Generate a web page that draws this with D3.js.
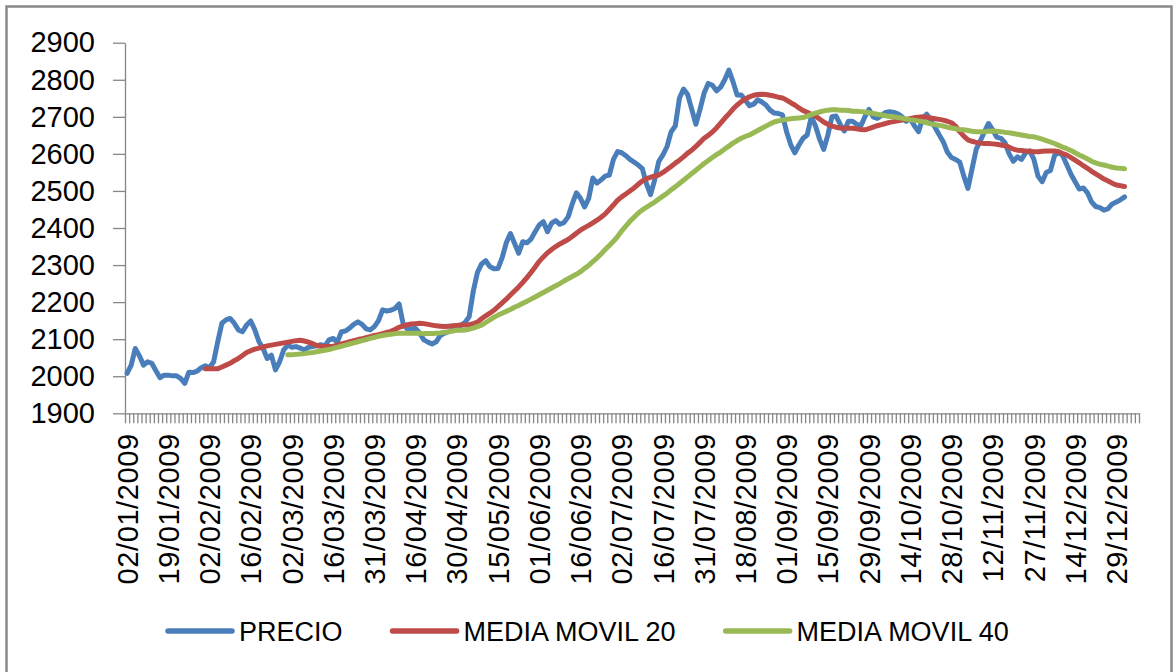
<!DOCTYPE html>
<html>
<head>
<meta charset="utf-8">
<script src="https://cdnjs.cloudflare.com/ajax/libs/d3/7.8.5/d3.min.js"></script>
<style>
  body { margin: 0; background: #fff; }
  svg { display: block; font-family: 'Liberation Sans', Arial, sans-serif; }
  .axis path, .axis line { stroke: #868686; stroke-width: 1.3; }
  .axis text { fill: #000; font-size: 29px; }
</style>
</head>
<body>
<svg id="chart" width="1173" height="672"></svg>
<script>
// category labels, one every 10 trading days
var dateLabels = ['02/01/2009', '19/01/2009', '02/02/2009', '16/02/2009', '02/03/2009',
    '16/03/2009', '31/03/2009', '16/04/2009', '30/04/2009', '15/05/2009', '01/06/2009',
    '16/06/2009', '02/07/2009', '16/07/2009', '31/07/2009', '18/08/2009', '01/09/2009',
    '15/09/2009', '29/09/2009', '14/10/2009', '28/10/2009', '12/11/2009', '27/11/2009',
    '14/12/2009', '29/12/2009'];
var labelStep = 10;
var nCategories = 246;

var yTicks = [1900, 2000, 2100, 2200, 2300, 2400, 2500, 2600, 2700, 2800, 2900];

// daily closing price (one value per category, from index 0)
var precio = [
    2008, 2030, 2075, 2055, 2030, 2039, 2035, 2015, 1996, 2003,
    2003, 2001, 2001, 1994, 1981, 2011, 2010, 2014, 2023, 2028,
    2023, 2039, 2093, 2143, 2152, 2156, 2143, 2125, 2120, 2138,
    2149, 2125, 2093, 2075, 2048, 2057, 2017, 2039, 2071, 2084,
    2078, 2080, 2076, 2071, 2078, 2080, 2082, 2085, 2082, 2098,
    2102, 2092, 2120, 2122, 2130, 2140, 2147, 2140, 2128, 2125,
    2134, 2150, 2179, 2176, 2178, 2183, 2195, 2140, 2127, 2128,
    2129, 2116, 2098, 2092, 2087, 2093, 2110, 2116, 2120, 2125,
    2130, 2138, 2145, 2161, 2230, 2280, 2303, 2312, 2296, 2290,
    2291, 2320, 2360, 2385, 2359, 2332, 2363, 2360, 2370, 2390,
    2408, 2417, 2390, 2413, 2420, 2410, 2415, 2430, 2465, 2495,
    2480, 2457, 2480, 2535, 2521, 2530, 2540, 2543, 2585, 2606,
    2603, 2595, 2585, 2578, 2570, 2560, 2520, 2490, 2530, 2580,
    2597, 2620, 2660, 2675, 2750, 2775, 2760, 2720, 2680, 2720,
    2764, 2790, 2785, 2770, 2780, 2800, 2826, 2795, 2759, 2759,
    2745, 2730, 2734, 2746, 2740, 2732, 2718, 2710, 2709, 2705,
    2660, 2625, 2603, 2624, 2642, 2651, 2700, 2676, 2640, 2612,
    2650, 2700, 2702, 2680, 2662, 2688, 2688, 2680, 2675, 2700,
    2720, 2700, 2696, 2703, 2712, 2714, 2712, 2708, 2700, 2688,
    2695, 2676, 2660, 2695, 2707, 2690, 2672, 2652, 2633, 2605,
    2590, 2585, 2578, 2540, 2507, 2560, 2612, 2635, 2660, 2682,
    2665, 2645, 2642, 2630, 2600, 2580, 2592, 2585, 2603, 2608,
    2585, 2540, 2525, 2550, 2555, 2595, 2605, 2595, 2570, 2545,
    2525, 2505, 2508, 2495, 2470, 2458, 2455, 2448, 2452, 2465,
    2470, 2476, 2484
];

// 20 day moving average, first value at category 19
var ma20Start = 19;
var ma20 = [
    2020,
    2020, 2020, 2020, 2025, 2030, 2035, 2042, 2048, 2056, 2064,
    2069, 2073, 2076, 2079, 2082, 2084, 2086, 2088, 2090, 2092,
    2094, 2096, 2097, 2095, 2092, 2088, 2083, 2081, 2080, 2080,
    2081, 2084, 2087, 2090, 2093, 2096, 2099, 2101, 2104, 2107,
    2110, 2112, 2115, 2118, 2121, 2126, 2132, 2136, 2139, 2141,
    2142, 2143, 2142, 2140, 2138, 2136, 2135, 2134, 2135, 2136,
    2137, 2138, 2138, 2139, 2142, 2146, 2155, 2163, 2170, 2178,
    2188, 2198, 2208, 2219, 2230, 2241, 2253, 2266, 2280, 2295,
    2310, 2322, 2333, 2342, 2350, 2357, 2363, 2369, 2377, 2386,
    2394, 2401, 2407, 2414, 2421, 2429, 2438, 2450, 2462, 2475,
    2484, 2492, 2500, 2508, 2518, 2527, 2533, 2537, 2540, 2543,
    2550, 2558, 2566, 2575, 2583, 2592, 2602, 2610, 2620, 2631,
    2642, 2650, 2659, 2670, 2683, 2696, 2708, 2721, 2732, 2741,
    2748, 2754, 2758, 2760, 2761, 2760, 2758, 2756, 2753, 2751,
    2745, 2738, 2732, 2724, 2717, 2712, 2707, 2702, 2694, 2686,
    2680, 2675, 2672, 2670, 2669, 2669, 2669, 2668, 2666, 2665,
    2668, 2672, 2676, 2679, 2682, 2685, 2687, 2689, 2691, 2693,
    2695, 2698, 2699, 2700, 2699, 2697, 2695, 2693, 2691, 2688,
    2684, 2675, 2660, 2648, 2638, 2634, 2631, 2629, 2628, 2628,
    2627, 2626, 2624, 2622, 2618, 2613, 2610, 2609, 2608, 2607,
    2606, 2606, 2607, 2608, 2608, 2608, 2606, 2601, 2597, 2590,
    2583, 2576, 2568, 2561, 2553, 2546, 2539, 2532, 2527, 2521,
    2516, 2514, 2512
];

// 40 day moving average, first value at category 39
var ma40Start = 39;
var ma40 = [
    2058,
    2058, 2059, 2060, 2061, 2063, 2064, 2066, 2068, 2070, 2072,
    2075, 2078, 2081, 2084, 2087, 2090, 2093, 2096, 2099, 2102,
    2105, 2108, 2110, 2112, 2113, 2115, 2116, 2116, 2116, 2116,
    2116, 2116, 2115, 2115, 2115, 2116, 2117, 2119, 2120, 2122,
    2124, 2124, 2125, 2127, 2130, 2134, 2138, 2145, 2152, 2159,
    2165, 2170, 2175, 2180, 2186, 2191, 2197, 2202, 2208, 2214,
    2220, 2226, 2232, 2238, 2244, 2250, 2257, 2263, 2269, 2275,
    2282, 2291, 2299, 2309, 2319, 2330, 2342, 2353, 2364, 2377,
    2392, 2405, 2418, 2429, 2440, 2449, 2456, 2463, 2470, 2478,
    2486, 2494, 2503, 2511, 2520, 2529, 2538, 2547, 2556, 2565,
    2574, 2582, 2590, 2598, 2605, 2613, 2621, 2629, 2636, 2642,
    2647, 2651, 2657, 2663, 2669, 2675, 2681, 2686, 2689, 2691,
    2693, 2695, 2696, 2697, 2698, 2702, 2706, 2710, 2713, 2716,
    2718, 2719, 2719, 2718, 2718, 2717, 2715, 2715, 2714, 2713,
    2711, 2709, 2707, 2705, 2703, 2701, 2700, 2698, 2696, 2694,
    2692, 2691, 2689, 2687, 2684, 2681, 2679, 2677, 2675, 2672,
    2670, 2668, 2666, 2665, 2663, 2661, 2660, 2660, 2660, 2661,
    2662, 2661, 2660, 2658, 2657, 2655, 2653, 2651, 2649, 2647,
    2646, 2643, 2640, 2636, 2632, 2628, 2623, 2618, 2614, 2609,
    2603, 2597, 2592, 2586, 2580, 2576, 2572, 2570, 2567, 2564,
    2562, 2561, 2560
];

var series = [
    { name: 'PRECIO', start: 0, values: precio, color: '#4A7EBB' },
    { name: 'MEDIA MOVIL 20', start: ma20Start, values: ma20, color: '#BE4B48' },
    { name: 'MEDIA MOVIL 40', start: ma40Start, values: ma40, color: '#98B954' }
];

var svg = d3.select('#chart');

// chart area border
svg.append('rect')
    .attr('x', 6.5).attr('y', 6.5)
    .attr('width', 1165).attr('height', 700)
    .attr('fill', '#fff')
    .attr('stroke', '#898989')
    .attr('stroke-width', 2.5);

// plot area
var plotLeft = 125, plotRight = 1139, plotTop = 42.7, plotBottom = 413.3;

var x = d3.scaleLinear().domain([0, nCategories]).range([plotLeft, plotRight]);
var y = d3.scaleLinear().domain([1900, 2900]).range([plotBottom, plotTop]);

// y axis
svg.append('g')
    .attr('class', 'axis')
    .attr('transform', 'translate(' + plotLeft + ',0)')
    .call(d3.axisLeft(y)
        .tickValues(yTicks)
        .tickSize(12)
        .tickSizeOuter(0)
        .tickPadding(18)
        .tickFormat(d3.format('d')));

// x axis: tick marks between categories
svg.append('g')
    .attr('class', 'axis')
    .attr('transform', 'translate(0,' + plotBottom + ')')
    .call(d3.axisBottom(x)
        .tickValues(d3.range(nCategories + 1))
        .tickSize(10)
        .tickSizeOuter(0)
        .tickFormat(''));

// x axis: rotated date labels
var xLabels = svg.append('g')
    .attr('class', 'axis')
    .attr('transform', 'translate(0,' + plotBottom + ')')
    .call(d3.axisBottom(x)
        .tickValues(dateLabels.map(function (d, k) { return k * labelStep + 0.5; }))
        .tickSize(0)
        .tickFormat(function (d, k) { return dateLabels[k]; }));
xLabels.select('.domain').remove();
xLabels.selectAll('text')
    .attr('transform', 'rotate(-90)')
    .attr('text-anchor', 'end')
    .attr('x', -20)
    .attr('y', 0)
    .attr('dy', '0.35em')
    .style('letter-spacing', '0.6px');

// lines
var line = d3.line()
    .x(function (d) { return x(d.i + 0.5); })
    .y(function (d) { return y(d.v); });

svg.selectAll('.series')
    .data(series)
    .enter()
    .append('path')
    .attr('class', 'series')
    .attr('fill', 'none')
    .attr('stroke', function (d) { return d.color; })
    .attr('stroke-width', 5)
    .attr('stroke-linejoin', 'round')
    .attr('stroke-linecap', 'round')
    .attr('d', function (d) {
        return line(d.values.map(function (v, k) { return { i: d.start + k, v: v }; }));
    });

// legend
var legend = svg.append('g').attr('transform', 'translate(0,631)');
var lx = 168;
series.forEach(function (s) {
    legend.append('line')
        .attr('x1', lx).attr('x2', lx + 64)
        .attr('y1', 0).attr('y2', 0)
        .attr('stroke', s.color)
        .attr('stroke-width', 5.5)
        .attr('stroke-linecap', 'round');
    var t = legend.append('text')
        .attr('x', lx + 71)
        .attr('y', 9.5)
        .attr('font-size', 27)
        .attr('fill', '#000')
        .text(s.name);
    lx = lx + 71 + t.node().getComputedTextLength() + 50;
});
</script>
</body>
</html>
